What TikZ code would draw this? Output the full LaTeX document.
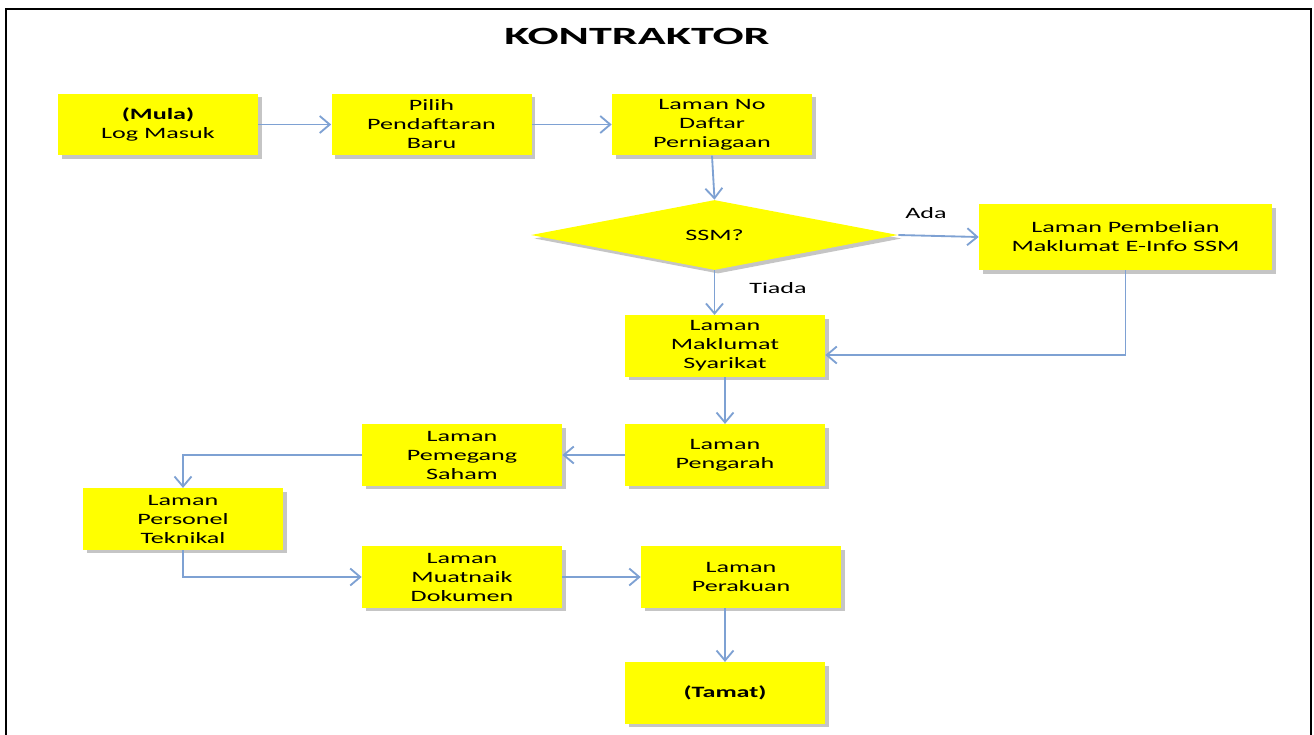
\documentclass[tikz,border=0pt]{standalone}
\usepackage{fontspec}
\usetikzlibrary{arrows.meta,shapes.geometric,shadows}
\setmainfont{Carlito}
\newfontfamily\boxfont[FakeStretch=1.65]{Carlito}
\newfontfamily\headfont[FakeStretch=1.86]{Carlito}
\definecolor{boxyellow}{HTML}{FFFF00}
\definecolor{flowblue}{HTML}{7EA1D3}
\definecolor{shadowgrey}{HTML}{8C8C8C}

\begin{document}
\begin{tikzpicture}[font=\boxfont\fontsize{9}{10.8}\selectfont,
  box/.style={fill=boxyellow,minimum width=4cm,minimum height=1.23cm,align=center,inner sep=1pt,
    drop shadow={shadow xshift=.07cm,shadow yshift=-.07cm,fill=shadowgrey,opacity=.5}},
  flow/.style={-{Straight Barb[length=2mm,width=3.4mm]},draw=flowblue,line width=1.05pt}]
\useasboundingbox (0,0) rectangle (26.28,-14.68);
\draw[line width=.04cm] (.12,-14.9) -- (.12,-.18) -- (26.22,-.18) -- (26.22,-14.9);
\node[font=\headfont\bfseries\fontsize{14.1}{17}\selectfont] (title) at (12.74,-.72) {KONTRAKTOR};
% Steps of the contractor registration, row by row.
\foreach \nm/\x/\y/\txt in {mula/3.16/-2.49/{\textbf{(Mula)}\\Log Masuk},pilih/8.63/-2.49/{Pilih\\Pendaftaran\\Baru},daftar/14.24/-2.49/{Laman No\\Daftar\\Perniagaan},maklumat/14.50/-6.92/{Laman\\Maklumat\\Syarikat},pengarah/14.50/-9.10/{Laman\\Pengarah},pemegang/9.24/-9.10/{Laman\\Pemegang\\Saham},personel/3.66/-10.38/{Laman\\Personel\\Teknikal},muatnaik/9.24/-11.54/{Laman\\Muatnaik\\Dokumen},perakuan/14.82/-11.54/{Laman\\Perakuan},tamat/14.50/-13.86/{\textbf{(Tamat)}}}{
  \node[box] (\nm) at (\x,\y) {\txt};
}
\node[box,minimum width=5.86cm,minimum height=1.32cm] (pembelian) at (22.51,-4.74) {Laman Pembelian\\Maklumat E-Info SSM};
\node[shape=diamond,fill=boxyellow,minimum width=7.34cm,minimum height=1.4cm,inner sep=0pt,
  drop shadow={shadow xshift=.07cm,shadow yshift=-.07cm,fill=shadowgrey,opacity=.5}] (ssm) at (14.29,-4.70) {SSM?};
\node (ada) at (18.52,-4.26) {Ada};
\node (tiada) at (15.56,-5.76) {Tiada};
% Connectors.
\draw[flow] (mula) -- (pilih);
\draw[flow] (pilih) -- (daftar);
\draw[flow] (daftar.south) -- (ssm.north);
\draw[flow] (ssm.east) -- (pembelian.west);
\draw[flow] (ssm.south) -- (ssm.south |- maklumat.north);
\draw[flow] (pembelian.south) |- ([yshift=-.18cm]maklumat.east);
\draw[flow] (maklumat) -- (pengarah);
\draw[flow] (pengarah) -- (pemegang);
\draw[flow] (pemegang.west) -| (personel.north);
\draw[flow] (personel.south) |- (muatnaik.west);
\draw[flow] (muatnaik) -- (perakuan);
\draw[flow] (perakuan.south -| tamat.north) -- (tamat.north);
\end{tikzpicture}
\end{document}
